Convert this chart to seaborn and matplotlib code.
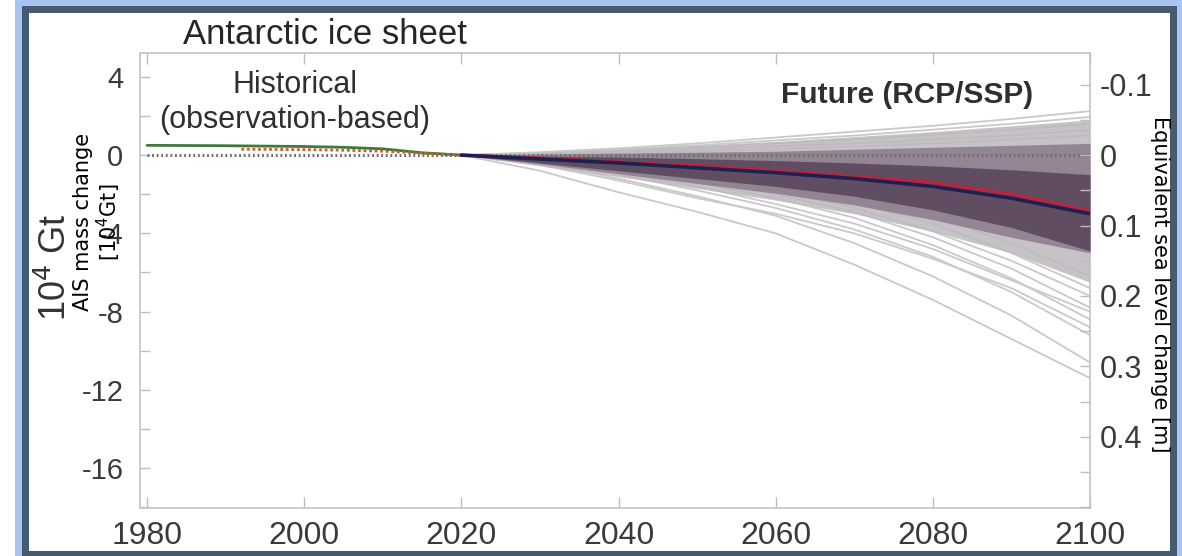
import numpy as np
import pandas as pd
import matplotlib
matplotlib.use("Agg")
import matplotlib.pyplot as plt
from matplotlib.patches import Rectangle
from matplotlib.ticker import MultipleLocator
import seaborn as sns

# ---------------- data (mass change in 10^4 Gt) ----------------
hist_years = [1980, 1990, 2000, 2005, 2010, 2015, 2020]
hist_obs = [0.50, 0.48, 0.44, 0.40, 0.32, 0.12, 0.00]

recon_years = [1992, 2000, 2005, 2010, 2015, 2020]
recon_obs = [0.30, 0.28, 0.25, 0.20, 0.10, 0.00]

future_years = [2020, 2030, 2040, 2050, 2060, 2070, 2080, 2090, 2100]
median_path = [0.0, -0.20, -0.40, -0.65, -0.90, -1.20, -1.60, -2.20, -3.00]
red_path = [0.0, -0.15, -0.35, -0.55, -0.80, -1.10, -1.40, -2.00, -2.85]

band_outer_hi = [0.0, 0.15, 0.30, 0.50, 0.70, 0.95, 1.20, 1.50, 1.80]
band_outer_lo = [0.0, -0.55, -1.10, -1.70, -2.30, -3.00, -3.90, -5.00, -6.50]
band_mid_hi = [0.0, 0.05, 0.10, 0.15, 0.20, 0.30, 0.40, 0.50, 0.60]
band_mid_lo = [0.0, -0.45, -0.95, -1.45, -1.95, -2.55, -3.30, -4.20, -5.00]
band_core_hi = [0.0, -0.05, -0.10, -0.18, -0.28, -0.40, -0.55, -0.75, -1.00]
band_core_lo = [0.0, -0.40, -0.80, -1.20, -1.60, -2.10, -2.80, -3.70, -4.90]

members_high = [
    [0.0, 0.15, 0.35, 0.60, 0.90, 1.20, 1.50, 1.85, 2.25],
    [0.0, 0.10, 0.30, 0.50, 0.75, 1.00, 1.30, 1.60, 1.95],
    [0.0, 0.10, 0.25, 0.40, 0.60, 0.80, 1.05, 1.30, 1.60],
    [0.0, 0.05, 0.15, 0.30, 0.45, 0.60, 0.80, 1.00, 1.30],
    [0.0, 0.05, 0.10, 0.20, 0.30, 0.45, 0.60, 0.80, 1.00],
]
members_low = [
    [0.0, -0.80, -1.90, -2.90, -4.00, -5.60, -7.40, -9.40, -11.40],
    [0.0, -0.40, -1.20, -2.10, -3.10, -4.50, -6.20, -8.20, -10.60],
    [0.0, -0.40, -1.00, -1.80, -2.70, -3.80, -5.20, -7.00, -9.20],
    [0.0, -0.50, -1.30, -2.20, -3.00, -4.00, -5.30, -6.80, -8.80],
    [0.0, -0.30, -0.80, -1.40, -2.20, -3.20, -4.60, -6.30, -8.40],
    [0.0, -0.30, -0.90, -1.60, -2.50, -3.50, -4.80, -6.40, -8.00],
    [0.0, -0.30, -0.70, -1.30, -2.00, -2.90, -4.20, -5.80, -7.80],
    [0.0, -0.20, -0.60, -1.10, -1.80, -2.70, -3.90, -5.40, -7.20],
    [0.0, -0.20, -0.60, -1.00, -1.60, -2.40, -3.50, -5.00, -6.80],
    [0.0, -0.20, -0.50, -0.90, -1.40, -2.10, -3.10, -4.50, -6.20],
]

x_ticks = [1980, 2000, 2020, 2040, 2060, 2080, 2100]
y_ticks = [4, 0, -4, -8, -12, -16]
sle_ticks = [-0.1, 0.0, 0.1, 0.2, 0.3, 0.4]
GT_PER_DM = 3.6  # 10^4 Gt of ice per 0.1 m of sea level

# ---------------- figure ----------------
sns.set_theme(style="white")
plt.rcParams["font.family"] = ["Liberation Sans", "DejaVu Sans"]

W, H = 1182, 556
fig = plt.figure(figsize=(W / 100, H / 100), dpi=100, facecolor="white")

# window-style frame
def px_rect(x0, y0, x1, y1, color, z):
    fig.patches.append(Rectangle((x0 / W, 1 - y1 / H), (x1 - x0) / W, (y1 - y0) / H,
                                 transform=fig.transFigure, facecolor=color,
                                 edgecolor="none", zorder=z))

px_rect(15, 0, 1182, 556, "#a9c4f2", -3)
px_rect(22, 6, 1177, 560, "#465a70", -2)
px_rect(29, 13, 1170, 551, "white", -1)

ax = fig.add_axes([140 / W, 1 - 508 / H, 950 / W, 455 / H])
ax.set_facecolor("none")

# ensemble members
rows = []
for i, m in enumerate(members_high + members_low):
    for yr, v in zip(future_years, m):
        rows.append({"year": yr, "mass": v, "member": i})
df_members = pd.DataFrame(rows)
sns.lineplot(data=df_members, x="year", y="mass", units="member", estimator=None,
             color="#c9c9c9", linewidth=1.3, ax=ax, zorder=1, legend=False)

# uncertainty bands
ax.fill_between(future_years, band_outer_lo, band_outer_hi, color="#bdb8bd",
                alpha=0.85, linewidth=0, zorder=2)
ax.fill_between(future_years, band_mid_lo, band_mid_hi, color="#8a7b8b",
                alpha=0.85, linewidth=0, zorder=3)
ax.fill_between(future_years, band_core_lo, band_core_hi, color="#574358",
                alpha=0.85, linewidth=0, zorder=4)

# zero reference
ax.plot([1980, 2100], [0, 0], color="#6e6e6e", linewidth=2.2,
        linestyle=(0, (0.6, 0.9)), zorder=5)

# historical reconstructions
sns.lineplot(x=hist_years, y=hist_obs, color="#3f7a3a", linewidth=2.0, ax=ax, zorder=6)
sns.lineplot(x=recon_years, y=recon_obs, color="#c8602a", linewidth=2.0,
             linestyle=(0, (1, 1)), ax=ax, zorder=6)

# central projections
sns.lineplot(x=future_years, y=red_path, color="#c4203c", linewidth=2.2, ax=ax, zorder=7)
sns.lineplot(x=future_years, y=median_path, color="#1d2150", linewidth=2.6, ax=ax, zorder=8)

ax.set_xlim(1979.1, 2100)
ylo, yhi = -18.04, 5.22
ax.set_ylim(ylo, yhi)
ax.set_xticks(x_ticks)
ax.set_yticks(y_ticks)
ax.yaxis.set_minor_locator(MultipleLocator(2))
ax.set_xlabel("")
ax.set_ylabel("")

for s in ax.spines.values():
    s.set_color("#c4c4c4")
    s.set_linewidth(1.2)

ax.tick_params(axis="x", which="major", direction="in", length=8, width=1, color="#bdbdbd",
               labelsize=23, labelcolor="#3a3a3a", pad=9, top=True, bottom=True)
ax.tick_params(axis="y", which="major", direction="in", length=7, width=1, color="#bdbdbd",
               labelsize=21, labelcolor="#3a3a3a", pad=12, left=True, right=False)
ax.tick_params(axis="y", which="minor", direction="in", length=7, width=1, color="#bdbdbd",
               left=True, right=False)
ax.set_yticklabels([str(v) for v in y_ticks])

# sea-level equivalent axis
ax2 = ax.twinx()
ax2.set_ylim(-ylo / GT_PER_DM * 0.1, -yhi / GT_PER_DM * 0.1)
ax2.set_yticks(sle_ticks)
ax2.set_yticklabels(["-0.1", "0", "0.1", "0.2", "0.3", "0.4"])
ax2.yaxis.set_minor_locator(MultipleLocator(0.05))
ax2.tick_params(axis="y", which="major", direction="in", length=7, width=1, color="#bdbdbd",
                labelsize=22, labelcolor="#3a3a3a", pad=7)
ax2.tick_params(axis="y", which="minor", direction="in", length=7, width=1, color="#bdbdbd")
for s in ax2.spines.values():
    s.set_visible(False)
ax2.grid(False)
ax.grid(False)

# annotations
fig.text(325 / W, 1 - 35 / H, "Antarctic ice sheet", ha="center", va="center",
         fontsize=25, color="#262626")
ax.text(1998.8, 3.6, "Historical", ha="center", va="center", fontsize=22, color="#2f2f2f")
ax.text(1998.8, 1.8, "(observation-based)", ha="center", va="center", fontsize=22,
        color="#2f2f2f")
ax.text(2076.7, 3.07, "Future (RCP/SSP)", ha="center", va="center", fontsize=21.5,
        fontweight="bold", color="#2f2f2f")

fig.text(56 / W, 1 - 267 / H, "10$^4$ Gt", rotation=90, ha="center", va="center",
         fontsize=26, color="#333333")
fig.text(98 / W, 1 - 222 / H, "AIS mass change\n[10$^4$Gt]", rotation=90, ha="center",
         va="center", fontsize=15, color="black", family="DejaVu Sans", linespacing=1.1)
fig.text(1160 / W, 1 - 284 / H, "Equivalent sea level change [m]", rotation=270,
         ha="center", va="center", fontsize=15, color="black", family="DejaVu Sans")

fig.savefig("out.png", dpi=100, facecolor="white")
